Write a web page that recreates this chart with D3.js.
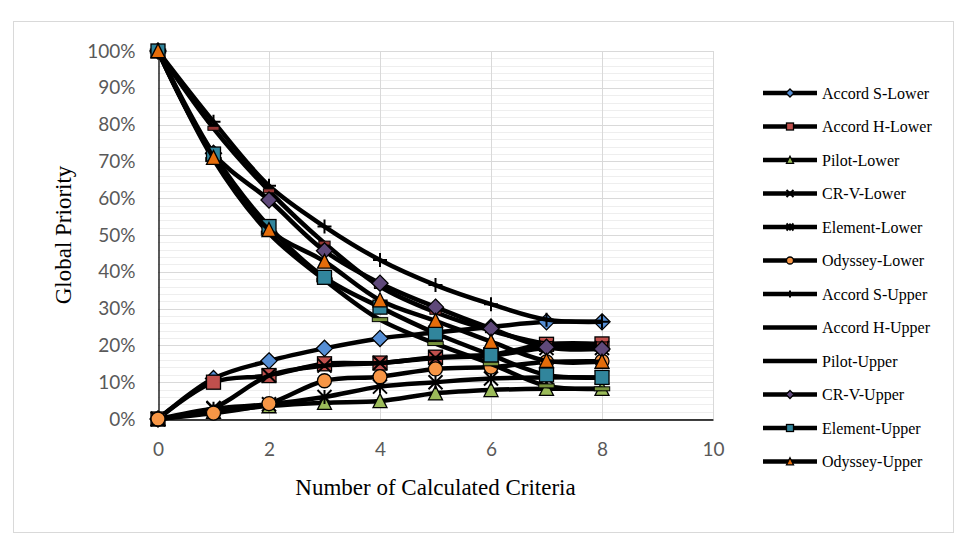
<!DOCTYPE html>
<html>
<head>
<meta charset="utf-8">
<script src="https://cdn.jsdelivr.net/npm/d3@7"></script>
<style>
  body { margin: 0; background: #fff; }
  svg { display: block; }
</style>
</head>
<body>
<svg id="chart"></svg>
<script>
// criteria counts on the x axis
const criteria = [0, 1, 2, 3, 4, 5, 6, 7, 8];

// global priority per series (fractions)
const accordSLower = [0, 0.11, 0.158, 0.192, 0.219, 0.235, 0.25, 0.264, 0.264];
const accordHLower = [0, 0.10, 0.118, 0.15, 0.152, 0.168, 0.175, 0.203, 0.204];
const pilotLower   = [0, 0.02, 0.035, 0.044, 0.049, 0.07, 0.079, 0.082, 0.082];
const crvLower     = [0, 0.03, 0.118, 0.145, 0.152, 0.166, 0.172, 0.193, 0.193];
const elementLower = [0, 0.028, 0.04, 0.06, 0.088, 0.10, 0.11, 0.113, 0.113];
const odysseyLower = [0, 0.016, 0.042, 0.104, 0.115, 0.136, 0.141, 0.155, 0.157];
const accordSUpper = [1, 0.808, 0.634, 0.523, 0.432, 0.364, 0.312, 0.27, 0.264];
const accordHUpper = [1, 0.79, 0.62, 0.478, 0.36, 0.29, 0.24, 0.205, 0.204];
const pilotUpper   = [1, 0.705, 0.505, 0.378, 0.27, 0.205, 0.15, 0.09, 0.082];
const crvUpper     = [1, 0.722, 0.595, 0.457, 0.369, 0.304, 0.246, 0.195, 0.19];
const elementUpper = [1, 0.72, 0.523, 0.385, 0.304, 0.233, 0.174, 0.12, 0.113];
const odysseyUpper = [1, 0.71, 0.514, 0.428, 0.323, 0.267, 0.21, 0.158, 0.156];

const seriesNames = ['Accord S-Lower', 'Accord H-Lower', 'Pilot-Lower', 'CR-V-Lower', 'Element-Lower', 'Odyssey-Lower',
  'Accord S-Upper', 'Accord H-Upper', 'Pilot-Upper', 'CR-V-Upper', 'Element-Upper', 'Odyssey-Upper'];
const seriesValues = [accordSLower, accordHLower, pilotLower, crvLower, elementLower, odysseyLower,
  accordSUpper, accordHUpper, pilotUpper, crvUpper, elementUpper, odysseyUpper];
const markerTypes = ['diamond', 'square', 'triangle', 'x', 'star', 'circle',
  'plus', 'dash', 'longdash', 'diamond', 'square', 'triangle'];
const markerColors = ['#558ED5', '#C0504D', '#9BBB59', '#8064A2', '#4BACC6', '#F79646',
  '#2C4D75', '#953735', '#77933C', '#5F497A', '#31859C', '#E46C0A'];

const xTicks = [0, 2, 4, 6, 8, 10];
const yTicks = [0, 0.1, 0.2, 0.3, 0.4, 0.5, 0.6, 0.7, 0.8, 0.9, 1];

const width = 966, height = 552;
const marginLeft = 158, marginRight = 253, marginTop = 51, marginBottom = 133;

const svg = d3.select('#chart')
  .attr('width', width)
  .attr('height', height)
  .attr('viewBox', [0, 0, width, height]);

// chart area border
svg.append('rect')
  .attr('x', 13.5).attr('y', 21.5)
  .attr('width', 940).attr('height', 511)
  .attr('fill', '#fff')
  .attr('stroke', '#d9d9d9');

const x = d3.scaleLinear().domain([0, 10]).range([marginLeft, width - marginRight]);
const y = d3.scaleLinear().domain([0, 1]).range([height - marginBottom, marginTop]);

// minor gridlines every 2%
svg.append('g')
  .selectAll('line')
  .data(d3.range(0, 1.0001, 0.02))
  .join('line')
  .attr('x1', x(0)).attr('x2', x(10))
  .attr('y1', (d) => Math.round(y(d)) + 0.5).attr('y2', (d) => Math.round(y(d)) + 0.5)
  .attr('stroke', '#eeeeee');

// major gridlines
svg.append('g')
  .selectAll('line')
  .data(yTicks)
  .join('line')
  .attr('x1', x(0)).attr('x2', x(10))
  .attr('y1', (d) => Math.round(y(d)) + 0.5).attr('y2', (d) => Math.round(y(d)) + 0.5)
  .attr('stroke', '#d9d9d9');
svg.append('g')
  .selectAll('line')
  .data(xTicks.slice(1))
  .join('line')
  .attr('x1', (d) => Math.round(x(d)) + 0.5).attr('x2', (d) => Math.round(x(d)) + 0.5)
  .attr('y1', y(0)).attr('y2', y(1))
  .attr('stroke', '#d9d9d9');

// axes
const yAxis = svg.append('g')
  .attr('transform', `translate(${Math.round(x(0)) + 0.5},0)`)
  .call(d3.axisLeft(y).tickValues(yTicks).tickSize(0).tickPadding(23).tickFormat(d3.format('.0%')));
const xAxis = svg.append('g')
  .attr('transform', `translate(0,${Math.round(y(0)) + 0.5})`)
  .call(d3.axisBottom(x).tickValues(xTicks).tickSize(0).tickPadding(23).tickFormat(d3.format('d')));
[xAxis, yAxis].forEach((a) => {
  a.select('.domain').attr('stroke', '#000').attr('stroke-width', 1.3);
  a.selectAll('text')
    .style('font-family', 'Lato, sans-serif')
    .style('font-size', '19px')
    .attr('fill', '#595959');
});

// axis titles
svg.append('text')
  .attr('x', (x(0) + x(10)) / 2).attr('y', 495)
  .attr('text-anchor', 'middle')
  .style('font-family', '"Liberation Serif", "Times New Roman", serif')
  .style('font-size', '23px')
  .text('Number of Calculated Criteria');
svg.append('text')
  .attr('transform', `translate(71,${(y(0) + y(1)) / 2}) rotate(-90)`)
  .attr('text-anchor', 'middle')
  .style('font-family', '"Liberation Serif", "Times New Roman", serif')
  .style('font-size', '23px')
  .text('Global Priority');

// marker drawing
function drawMarker(g, type, color, s) {
  const h = s / 2;
  if (type === 'diamond') {
    g.append('path').attr('d', `M0,${-h * 1.15}L${h * 1.15},0L0,${h * 1.15}L${-h * 1.15},0Z`)
      .attr('fill', color).attr('stroke', '#000').attr('stroke-width', 1.3);
  } else if (type === 'square') {
    g.append('rect').attr('x', -h).attr('y', -h).attr('width', s).attr('height', s)
      .attr('fill', color).attr('stroke', '#000').attr('stroke-width', 1.3);
  } else if (type === 'triangle') {
    g.append('path').attr('d', `M0,${-h * 1.05}L${h},${h * 0.95}L${-h},${h * 0.95}Z`)
      .attr('fill', color).attr('stroke', '#000').attr('stroke-width', 1.3);
  } else if (type === 'circle') {
    g.append('circle').attr('r', h)
      .attr('fill', color).attr('stroke', '#000').attr('stroke-width', 1.3);
  } else if (type === 'x') {
    g.append('path').attr('d', `M${-h},${-h}L${h},${h}M${h},${-h}L${-h},${h}`)
      .attr('stroke', '#000').attr('stroke-width', 2);
  } else if (type === 'star') {
    g.append('path').attr('d', `M${-h},${-h}L${h},${h}M${h},${-h}L${-h},${h}M0,${-h}L0,${h}`)
      .attr('stroke', '#000').attr('stroke-width', 2);
  } else if (type === 'plus') {
    g.append('path').attr('d', `M${-h},0L${h},0M0,${-h}L0,${h}`)
      .attr('stroke', '#000').attr('stroke-width', 2);
  } else if (type === 'dash') {
    g.append('rect').attr('x', -h * 0.8).attr('y', -2).attr('width', s * 0.8).attr('height', 4)
      .attr('fill', color).attr('stroke', '#000').attr('stroke-width', 1);
  } else if (type === 'longdash') {
    g.append('rect').attr('x', -h * 1.1).attr('y', -2).attr('width', s * 1.1).attr('height', 4)
      .attr('fill', color).attr('stroke', '#000').attr('stroke-width', 1);
  }
}

const line = d3.line()
  .x((d) => x(d[0]))
  .y((d) => y(d[1]))
  .curve(d3.curveCatmullRom.alpha(0.5));

const plot = svg.append('g');
seriesValues.forEach((vals, i) => {
  const pts = criteria.map((c, j) => [c, vals[j]]);
  plot.append('path')
    .attr('d', line(pts))
    .attr('fill', 'none')
    .attr('stroke', '#000')
    .attr('stroke-width', 4.5)
    .attr('stroke-linejoin', 'round');
  pts.forEach((p) => {
    const g = plot.append('g').attr('transform', `translate(${x(p[0])},${y(p[1])})`);
    drawMarker(g, markerTypes[i], markerColors[i], 14);
  });
});

// legend (dash markers disappear inside the thick legend line)
const legend = svg.append('g');
seriesNames.forEach((name, i) => {
  const ly = 93 + i * 33.5;
  legend.append('line')
    .attr('x1', 763).attr('x2', 817)
    .attr('y1', ly).attr('y2', ly)
    .attr('stroke', '#000').attr('stroke-width', 4.5);
  if (markerTypes[i] !== 'dash' && markerTypes[i] !== 'longdash') {
    const g = legend.append('g').attr('transform', `translate(790,${ly})`);
    drawMarker(g, markerTypes[i], markerColors[i], 7);
  }
  legend.append('text')
    .attr('x', 822).attr('y', ly)
    .attr('dy', '0.35em')
    .style('font-family', '"Liberation Serif", "Times New Roman", serif')
    .style('font-size', '16px')
    .text(name);
});
</script>
</body>
</html>
